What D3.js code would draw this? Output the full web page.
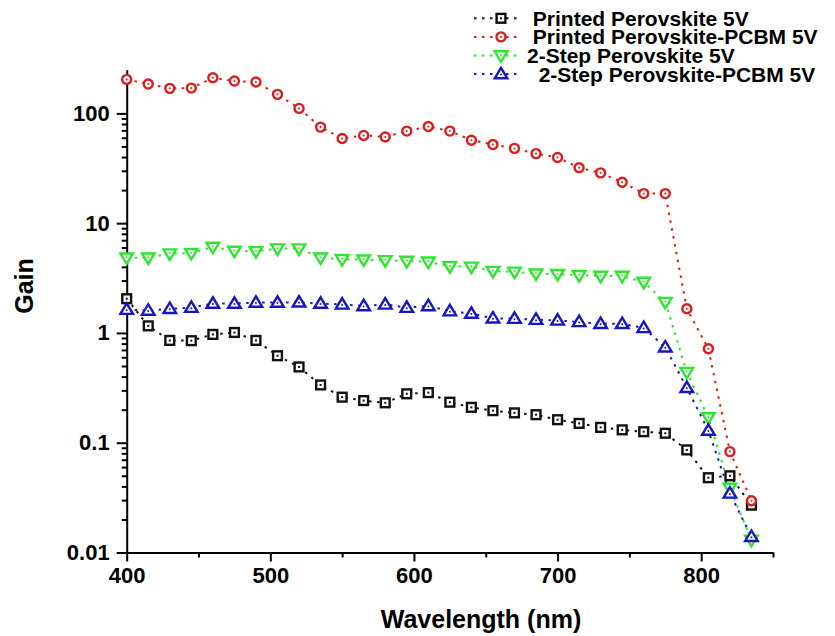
<!DOCTYPE html>
<html>
<head>
<meta charset="utf-8">
<script src="https://cdn.jsdelivr.net/npm/d3@7"></script>
<style>
  body { margin: 0; background: #fff; }
  svg { display: block; font-family: "Liberation Sans", Arial, sans-serif; font-weight: bold; }
</style>
</head>
<body>
<svg id="chart"></svg>
<script>
const width = 835;
const height = 636;

// wavelengths, 400..835 nm in 15 nm steps
const wavelengths = [400, 415, 430, 445, 460, 475, 490, 505, 520, 535, 550, 565, 580, 595, 610,
  625, 640, 655, 670, 685, 700, 715, 730, 745, 760, 775, 790, 805, 820, 835];

const printed5V = [2.05, 1.16, 0.855, 0.85, 0.97, 1.01, 0.855, 0.62, 0.49, 0.336, 0.26, 0.242, 0.231, 0.279, 0.286,
  0.234, 0.21, 0.196, 0.187, 0.18, 0.162, 0.15, 0.138, 0.131, 0.126, 0.122, 0.086, 0.048, 0.05, 0.027];

const printedPCBM5V = [204, 185, 169, 170, 211, 197, 193, 149, 111, 75, 59, 63, 61, 69, 76,
  69, 57, 52, 48, 43, 39.7, 32, 28.7, 23.6, 18.6, 18.6, 1.66, 0.718, 0.083, 0.0296];

const twoStep5V = [4.85, 4.85, 5.28, 5.33, 6.07, 5.58, 5.54, 5.87, 5.87, 4.85, 4.69, 4.65, 4.59, 4.52, 4.45,
  4.04, 4.0, 3.66, 3.6, 3.47, 3.43, 3.35, 3.3, 3.3, 2.91, 1.91, 0.44, 0.17, 0.0387, 0.013];

const twoStepPCBM5V = [1.63, 1.6, 1.66, 1.7, 1.85, 1.85, 1.89, 1.89, 1.9, 1.85, 1.82, 1.76, 1.82, 1.7, 1.76,
  1.58, 1.5, 1.36, 1.35, 1.32, 1.3, 1.26, 1.21, 1.21, 1.11, 0.74, 0.316, 0.129, 0.0345, 0.0139];

const seriesNames = [" Printed Perovskite 5V", " Printed Perovskite-PCBM 5V",
  "2-Step Perovskite 5V", "  2-Step Perovskite-PCBM 5V"];

const xTicks = [400, 500, 600, 700, 800];
const yTicks = [0.01, 0.1, 1, 10, 100];
const yTickLabels = ["0.01", "0.1", "1", "10", "100"];

const series = [
  { name: seriesNames[0], values: printed5V, color: "#111111", symbol: "square" },
  { name: seriesNames[1], values: printedPCBM5V, color: "#dd1c1c", symbol: "circle" },
  { name: seriesNames[2], values: twoStep5V, color: "#2fe52f", symbol: "down" },
  { name: seriesNames[3], values: twoStepPCBM5V, color: "#1616c4", symbol: "up" }
];

const margin = { top: 69.7, right: 62, bottom: 83.5, left: 126.7 };

const svg = d3.select("#chart").attr("width", width).attr("height", height);

const x = d3.scaleLinear().domain([400, 850]).range([margin.left, width - margin.right]);
const y = d3.scaleLog().domain([0.01, 250]).range([height - margin.bottom, margin.top]);

// minor ticks
const xMinor = d3.range(450, 851, 100);
const yMinor = [];
[0.01, 0.1, 1, 10, 100].forEach(d => {
  for (let k = 2; k <= 9; k++) if (d * k <= 250) yMinor.push(d * k);
});

const gx = svg.append("g").attr("transform", `translate(0,${height - margin.bottom})`);
gx.call(d3.axisBottom(x).tickValues(xMinor).tickSize(5).tickFormat("").tickSizeOuter(0));
gx.call(g => g.append("g").call(d3.axisBottom(x).tickValues(xTicks).tickSize(9).tickPadding(6).tickSizeOuter(0).tickFormat(d3.format("d"))));
gx.selectAll("path.domain").attr("stroke", "#000").attr("stroke-width", 2);
gx.select("g path.domain").remove();

const gy = svg.append("g").attr("transform", `translate(${margin.left},0)`);
gy.call(d3.axisLeft(y).tickValues(yMinor).tickSize(5).tickFormat("").tickSizeOuter(0));
gy.call(g => g.append("g").call(d3.axisLeft(y).tickValues(yTicks).tickSize(10).tickPadding(7).tickSizeOuter(0)
  .tickFormat((d, i) => yTickLabels[i])));
gy.selectAll("path.domain").attr("stroke", "#000").attr("stroke-width", 2);
gy.select("g path.domain").remove();

svg.selectAll(".tick line").attr("stroke", "#000").attr("stroke-width", 2);
svg.selectAll(".tick text").attr("fill", "#000").style("font-size", "22px").style("font-weight", "bold")
  .style("font-family", "'Liberation Sans', Arial, sans-serif");

// axis titles
svg.append("text")
  .attr("x", 481).attr("y", 628)
  .attr("text-anchor", "middle")
  .style("font-size", "25px")
  .text("Wavelength (nm)");

svg.append("text")
  .attr("transform", "translate(33,286) rotate(-90)")
  .attr("text-anchor", "middle")
  .style("font-size", "25px")
  .text("Gain");

function drawMarker(g, symbol, color) {
  if (symbol === "square") {
    g.append("rect").attr("x", -4.4).attr("y", -4.4).attr("width", 8.8).attr("height", 8.8)
      .attr("fill", "#fff").attr("stroke", color).attr("stroke-width", 2.4);
    g.append("rect").attr("x", -1).attr("y", -1).attr("width", 2).attr("height", 2).attr("fill", color);
  } else if (symbol === "circle") {
    g.append("circle").attr("r", 4.5).attr("fill", "#fff").attr("stroke", color).attr("stroke-width", 2.4);
    g.append("circle").attr("r", 1).attr("fill", color);
  } else {
    const s = symbol === "up" ? -1 : 1;
    const pts = [[-6.3, -4.2 * s], [6.3, -4.2 * s], [0, 6.3 * s]];
    g.append("path").attr("d", d3.line()(pts) + "Z")
      .attr("fill", "#fff").attr("stroke", color).attr("stroke-width", 2.4).attr("stroke-linejoin", "miter");
    g.append("circle").attr("r", 1).attr("cy", -0.5 * s).attr("fill", color);
  }
}

const line = d3.line()
  .x((d, i) => x(wavelengths[i]))
  .y(d => y(d));

series.forEach(s => {
  svg.append("path")
    .datum(s.values)
    .attr("fill", "none")
    .attr("stroke", s.color)
    .attr("stroke-width", 2)
    .attr("stroke-dasharray", "2.5,5.5")
    .attr("d", line);
});

series.forEach(s => {
  svg.append("g")
    .selectAll("g")
    .data(s.values)
    .join("g")
    .attr("transform", (d, i) => `translate(${x(wavelengths[i])},${y(d)})`)
    .each(function () { drawMarker(d3.select(this), s.symbol, s.color); });
});

// legend
const legend = svg.append("g");
series.forEach((s, i) => {
  const yy = 18.3 + i * 18.6;
  const row = legend.append("g").attr("transform", `translate(0,${yy})`);
  row.append("line").attr("x1", 474).attr("x2", 518).attr("y1", 0).attr("y2", 0)
    .attr("stroke", s.color).attr("stroke-width", 2).attr("stroke-dasharray", "2.5,5.5");
  drawMarker(row.append("g").attr("transform", "translate(501,0)"), s.symbol, s.color);
  row.append("text")
    .attr("x", 527).attr("y", 7.5)
    .style("font-size", "21px")
    .style("white-space", "pre")
    .attr("xml:space", "preserve")
    .text(s.name);
});
</script>
</body>
</html>
